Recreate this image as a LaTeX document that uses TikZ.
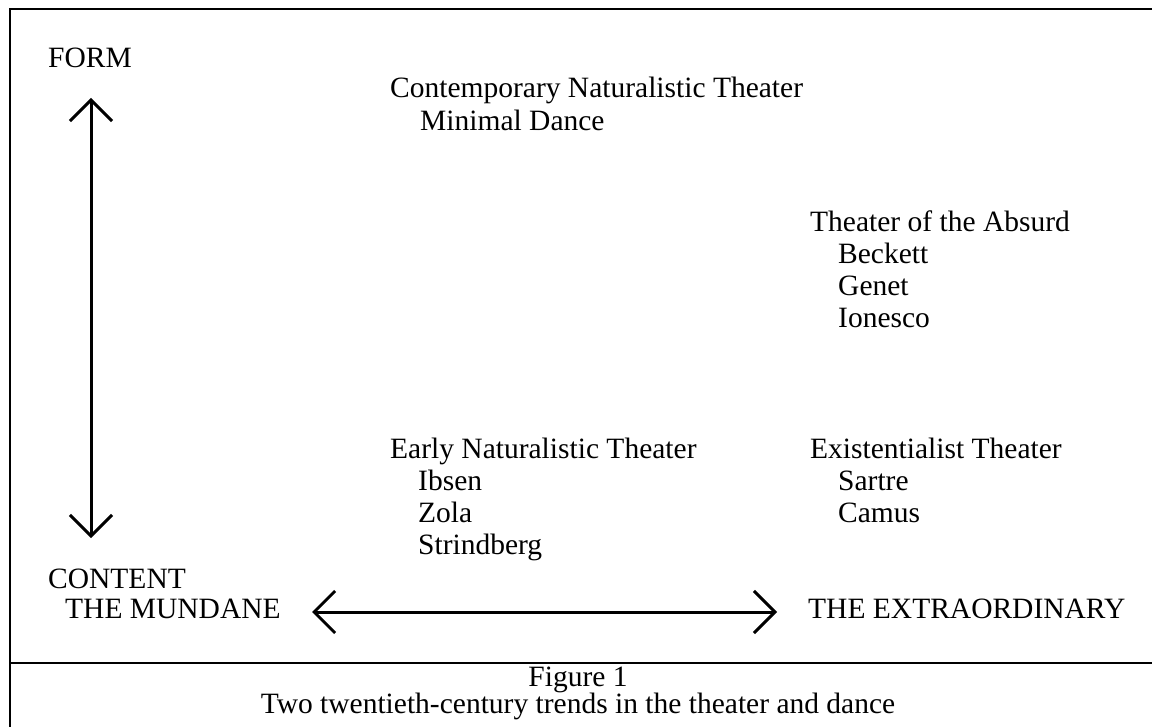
\documentclass[tikz,border=0pt]{standalone}
\usepackage{fontspec}
\setmainfont{Liberation Serif}
\usetikzlibrary{arrows.meta}
\begin{document}
\begin{tikzpicture}[x=1pt,y=-1pt,
  lbl/.style={anchor=base west,inner sep=0pt,font=\fontsize{29.5}{32}\selectfont},
  captext/.style={anchor=base,inner sep=0pt,font=\fontsize{29.5}{32}\selectfont},
  frame/.style={line width=2pt},
  axis/.style={line width=3pt,{Straight Barb[length=21pt,width=42pt,line width=3pt]}-{Straight Barb[length=21pt,width=42pt,line width=3pt]}}]
\useasboundingbox (0,0) rectangle (1152,727);
% frame
\coordinate (tl) at (10,9);
\coordinate (tr) at (1152,9);
\coordinate (bl) at (10,727);
\coordinate (dl) at (10,663);
\coordinate (dr) at (1152,663);
\draw[frame] (tr) -- (tl) -- (bl);
\draw[frame] (dl) -- (dr);
% axes
\coordinate (vtop) at (91,98);
\coordinate (vbot) at (91,538);
\coordinate (hl) at (312,612);
\coordinate (hr) at (777,612);
\draw[axis] (vtop) -- (vbot);
\draw[axis] (hl) -- (hr);
% axis labels
\node[lbl] (form) at (48,68) {FORM};
\node[lbl] (content) at (48,588) {CONTENT};
\node[lbl] (mundane) at (65,618) {THE MUNDANE};
\node[lbl] (extra) at (808,618) {THE EXTRAORDINARY};
% groups
\node[lbl] (cnt) at (390,98) {Contemporary Naturalistic Theater};
\node[lbl] (md) at (420,131) {Minimal Dance};
\node[lbl] (abs) at (810,232) {Theater of the Absurd};
\node[lbl] (beck) at (838,264) {Beckett};
\node[lbl] (gen) at (838,296) {Genet};
\node[lbl] (ion) at (838,328) {Ionesco};
\node[lbl] (ent) at (390,458) {Early Naturalistic Theater};
\node[lbl] (ibs) at (418,490) {Ibsen};
\node[lbl] (zol) at (418,522) {Zola};
\node[lbl] (str) at (418,554) {Strindberg};
\node[lbl] (ext) at (810,458) {Existentialist Theater};
\node[lbl] (sar) at (838,490) {Sartre};
\node[lbl] (cam) at (838,522) {Camus};
% caption
\node[captext] (fig) at (578,686) {Figure 1};
\node[captext] (capt) at (578,713) {Two twentieth-century trends in the theater and dance};
\end{tikzpicture}
\end{document}
